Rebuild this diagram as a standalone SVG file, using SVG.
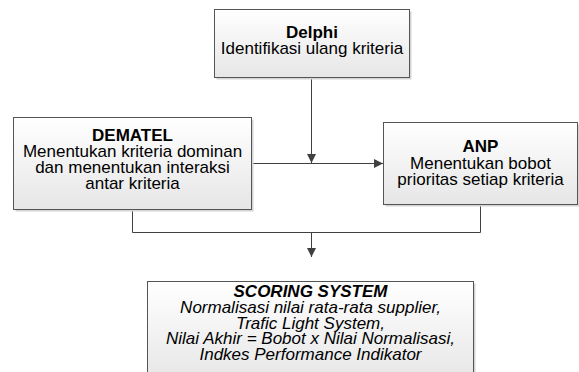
<svg xmlns="http://www.w3.org/2000/svg" width="579" height="372" viewBox="0 0 579 372">
<defs>
<linearGradient id="g" x1="0" y1="0" x2="0" y2="1">
<stop offset="0" stop-color="#ffffff"/>
<stop offset="1" stop-color="#e6e6e6"/>
</linearGradient>
<marker id="arr" markerUnits="userSpaceOnUse" markerWidth="12" markerHeight="12" viewBox="0 0 12 12" refX="10" refY="6" orient="auto">
<path d="M1,1.5 L10,6 L1,10.5 Z" fill="#404040"/>
</marker>
<style>
.box{fill:url(#g);stroke:#555555;stroke-width:1}
.sh{fill:#d4d4d4}
.t{font-family:"Liberation Sans",Arial,sans-serif;font-size:17px;fill:#000;text-anchor:middle}
.b{font-weight:bold}
.i{font-style:italic}
.c{fill:none;stroke:#404040;stroke-width:1}
</style>
</defs>
<g id="connectors">
<path class="c" d="M311.5 77 V163" marker-end="url(#arr)"/>
<path class="c" d="M251 163.5 H383" marker-end="url(#arr)"/>
<path class="c" d="M132.5 210 V232.5 H480.5 V204"/>
<path class="c" d="M311.5 232.5 V257" marker-end="url(#arr)"/>
</g>
<g id="delphi">
<rect class="sh" x="216.5" y="11.5" width="195" height="68"/>
<rect class="box" x="214.5" y="9.5" width="195" height="68"/>
<text class="t b" x="312" y="38">Delphi</text>
<text class="t" x="312" y="54">Identifikasi ulang kriteria</text>
</g>
<g id="dematel">
<rect class="sh" x="15.5" y="119.5" width="238" height="92"/>
<rect class="box" x="13.5" y="117.5" width="238" height="92"/>
<text class="t b" x="132.5" y="141">DEMATEL</text>
<text class="t" x="132.5" y="157">Menentukan kriteria dominan</text>
<text class="t" x="132.5" y="173">dan menentukan interaksi</text>
<text class="t" x="132.5" y="189">antar kriteria</text>
</g>
<g id="anp">
<rect class="sh" x="385.5" y="124.5" width="194" height="82"/>
<rect class="box" x="383.5" y="122.5" width="194" height="82"/>
<text class="t b" x="480.5" y="152">ANP</text>
<text class="t" x="480.5" y="169">Menentukan bobot</text>
<text class="t" x="480.5" y="185">prioritas setiap kriteria</text>
</g>
<g id="scoring">
<rect class="sh" x="149.5" y="283.5" width="326" height="100"/>
<rect class="box" x="147.5" y="281.5" width="326" height="100"/>
<text class="t b i" x="310.5" y="297">SCORING SYSTEM</text>
<text class="t i" x="310.5" y="313">Normalisasi nilai rata-rata supplier,</text>
<text class="t i" x="310.5" y="328.5">Trafic Light System,</text>
<text class="t i" x="310.5" y="344">Nilai Akhir = Bobot x Nilai Normalisasi,</text>
<text class="t i" x="310.5" y="359.5">Indkes Performance Indikator</text>
</g>
</svg>
